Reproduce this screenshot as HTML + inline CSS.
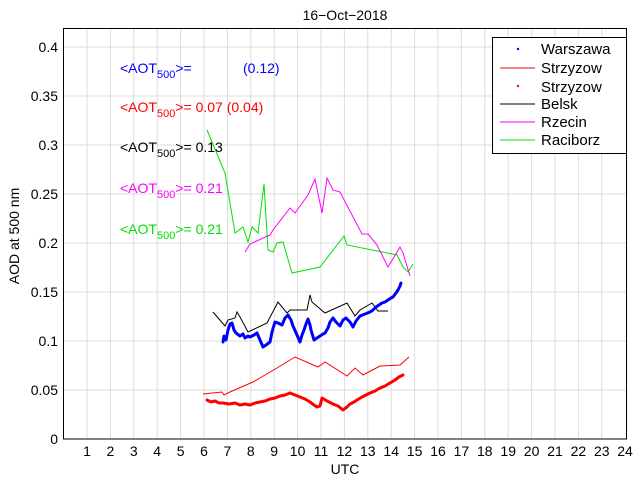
<!DOCTYPE html>
<html><head><style>body{margin:0;background:#fff}svg{font-family:"Liberation Sans",sans-serif}</style></head><body>
<svg width="640" height="480" xmlns="http://www.w3.org/2000/svg">
<rect width="640" height="480" fill="#fff"/>
<g stroke="#dcdcdc" stroke-width="1">
<line x1="87" y1="28" x2="87" y2="439"/><line x1="110.4" y1="28" x2="110.4" y2="439"/><line x1="133.8" y1="28" x2="133.8" y2="439"/><line x1="157.2" y1="28" x2="157.2" y2="439"/><line x1="180.6" y1="28" x2="180.6" y2="439"/><line x1="204" y1="28" x2="204" y2="439"/><line x1="227.4" y1="28" x2="227.4" y2="439"/><line x1="250.8" y1="28" x2="250.8" y2="439"/><line x1="274.2" y1="28" x2="274.2" y2="439"/><line x1="297.6" y1="28" x2="297.6" y2="439"/><line x1="321" y1="28" x2="321" y2="439"/><line x1="344.4" y1="28" x2="344.4" y2="439"/><line x1="367.8" y1="28" x2="367.8" y2="439"/><line x1="391.2" y1="28" x2="391.2" y2="439"/><line x1="414.6" y1="28" x2="414.6" y2="439"/><line x1="438" y1="28" x2="438" y2="439"/><line x1="461.4" y1="28" x2="461.4" y2="439"/><line x1="484.8" y1="28" x2="484.8" y2="439"/><line x1="508.2" y1="28" x2="508.2" y2="439"/><line x1="531.6" y1="28" x2="531.6" y2="439"/><line x1="555" y1="28" x2="555" y2="439"/><line x1="578.4" y1="28" x2="578.4" y2="439"/><line x1="601.8" y1="28" x2="601.8" y2="439"/>
<line x1="63" y1="390" x2="627" y2="390"/><line x1="63" y1="341" x2="627" y2="341"/><line x1="63" y1="292" x2="627" y2="292"/><line x1="63" y1="243" x2="627" y2="243"/><line x1="63" y1="194" x2="627" y2="194"/><line x1="63" y1="145" x2="627" y2="145"/><line x1="63" y1="96" x2="627" y2="96"/><line x1="63" y1="47" x2="627" y2="47"/>
</g>
<rect x="63.5" y="28.5" width="563" height="410.5" fill="none" stroke="#000"/>
<g font-size="14" text-anchor="end">
<text x="58" y="444">0</text><text x="58" y="395">0.05</text><text x="58" y="346">0.1</text><text x="58" y="297">0.15</text><text x="58" y="248">0.2</text><text x="58" y="199">0.25</text><text x="58" y="150">0.3</text><text x="58" y="101">0.35</text><text x="58" y="52">0.4</text>
</g>
<g font-size="14" text-anchor="middle">
<text x="87" y="456">1</text><text x="110.4" y="456">2</text><text x="133.8" y="456">3</text><text x="157.2" y="456">4</text><text x="180.6" y="456">5</text><text x="204" y="456">6</text><text x="227.4" y="456">7</text><text x="250.8" y="456">8</text><text x="274.2" y="456">9</text><text x="297.6" y="456">10</text><text x="321" y="456">11</text><text x="344.4" y="456">12</text><text x="367.8" y="456">13</text><text x="391.2" y="456">14</text><text x="414.6" y="456">15</text><text x="438" y="456">16</text><text x="461.4" y="456">17</text><text x="484.8" y="456">18</text><text x="508.2" y="456">19</text><text x="531.6" y="456">20</text><text x="555" y="456">21</text><text x="578.4" y="456">22</text><text x="601.8" y="456">23</text><text x="625" y="456">24</text>
<text x="345" y="474">UTC</text>
<text x="345" y="20">16−Oct−2018</text>
</g>
<text font-size="14" text-anchor="middle" transform="translate(19,236) rotate(-90)">AOD at 500 nm</text>
<g fill="none" stroke-width="1">
<polyline stroke="#00e000" points="207,130 225,173 235,233 243,227 248,242 252,227 258,233 264,184 268,250 273,252 277,243 283,242 292,273 320,267 344,236 347,245 397,255 403,267 408,272 413,264"/>
<polyline stroke="#ff00ff" points="245,252 250,244 270,235 273,230 290,208 295,213 308,195 315,179 322,213 327,178 333,190 340,192 362,234 368,234 377,245 388,267 400,247 403,253 410,276"/>
<polyline stroke="#000" points="213,312 225,326 228,320 235,318 237,312 240,317 248,332 267,323 278,302 287,313 290,310 307,310 310,295 312,302 325,313 347,303 355,316 360,310 372,303 378,311 388,311"/>
<polyline stroke="#ff0000" points="203,394 222,392 224,395 230,392 253,382 277,368 295,357 318,367 325,362 347,376 355,368 363,375 380,366 400,365 409,357"/>
<polyline stroke="#ff0000" stroke-width="3" stroke-linejoin="round" stroke-linecap="round" points="207,400 211,402 215,401 219,403 223,403 229,404 235,403 240,405 245,404 250,405 255,403 260,402 265,401 270,399 275,398 280,396 285,395 290,393 295,395 300,397 305,399 310,402 314,405 317,407 320,406 322,398 327,401 333,404 338,406 343,410 347,407 350,404 354,402 357,400 362,397 366,395 370,393 375,391 380,388 385,386 390,383 395,380 399,377 403,375"/>
<polyline stroke="#0000ff" stroke-width="3" stroke-linejoin="round" stroke-linecap="round" points="223,342 224,336 226,340 228,330 230,324 232,323 234,330 236,333 240,336 243,334 245,338 248,336 250,337 254,335 257,333 260,340 263,347 266,345 270,342 272,332 275,322 278,323 282,325 285,318 288,315 291,320 293,326 297,335 300,342 302,335 304,330 306,324 308,319 310,325 311,330 314,340 317,338 320,336 323,334 325,333 328,328 330,322 333,318 336,322 340,326 343,320 346,318 350,322 353,327 356,321 360,316 365,314 370,312 373,310 376,307 379,305 382,303 385,302 388,300 391,298 393,297 396,293 398,290 400,286 401,283"/>
</g>
<g font-size="14">
<text x="120" y="73" fill="#0000ff">&lt;AOT<tspan font-size="11" dy="5">500</tspan><tspan dy="-5">&gt;=</tspan><tspan x="243">(0.12)</tspan></text>
<text x="120" y="112" fill="#ff0000">&lt;AOT<tspan font-size="11" dy="5">500</tspan><tspan dy="-5">&gt;= 0.07 (0.04)</tspan></text>
<text x="120" y="152" fill="#000">&lt;AOT<tspan font-size="11" dy="5">500</tspan><tspan dy="-5">&gt;= 0.13</tspan></text>
<text x="120" y="193" fill="#ff00ff">&lt;AOT<tspan font-size="11" dy="5">500</tspan><tspan dy="-5">&gt;= 0.21</tspan></text>
<text x="120" y="234" fill="#00e000">&lt;AOT<tspan font-size="11" dy="5">500</tspan><tspan dy="-5">&gt;= 0.21</tspan></text>
</g>
<rect x="492.5" y="37.5" width="134" height="116" fill="#fff" stroke="#000"/>
<g font-size="15">
<circle cx="518" cy="49" r="1.2" fill="#0000ff"/><text x="541" y="54">Warszawa</text>
<line x1="500" y1="68" x2="535" y2="68" stroke="#ff0000"/><text x="541" y="73">Strzyzow</text>
<circle cx="518" cy="86" r="1.2" fill="#ff0000"/><text x="541" y="92">Strzyzow</text>
<line x1="500" y1="104" x2="535" y2="104" stroke="#000"/><text x="541" y="109">Belsk</text>
<line x1="500" y1="122" x2="535" y2="122" stroke="#ff00ff"/><text x="541" y="127">Rzecin</text>
<line x1="500" y1="140" x2="535" y2="140" stroke="#00e000"/><text x="541" y="145">Raciborz</text>
</g>
</svg>
</body></html>
